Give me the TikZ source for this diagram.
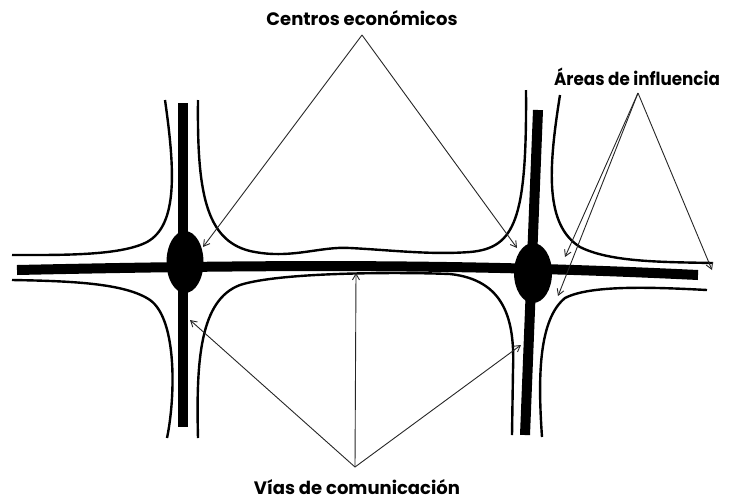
\documentclass[tikz,border=0pt]{standalone}
\usepackage{fontspec}
\setmainfont{Poppins}
\usetikzlibrary{shapes.geometric,arrows.meta}
\begin{document}
\begin{tikzpicture}[x=1pt,y=-1pt,
  road/.style={line width=10pt,black},
  edge/.style={line width=2.4pt,black},
  pointer/.style={line width=0.9pt,black!85,-{Straight Barb[length=6pt,width=7pt]}},
  hub/.style={ellipse,fill=black,inner sep=0pt},
  label/.style={font=\bfseries\fontsize{18}{20}\selectfont,inner sep=0pt}]
\useasboundingbox (0,0) rectangle (733,499);
% roads
\draw[road] (17,270) .. controls (250,265) and (450,263) .. (698,275);
\draw[road] (183,103) -- (183,427);
\draw[road] (538,110) -- (525,435);
\node[hub,minimum width=37pt,minimum height=62pt] (E1) at (185,262) {};
\node[hub,minimum width=38pt,minimum height=60pt] (E2) at (533,273) {};
% areas of influence
\draw[edge] (165,100) .. controls (175,170) and (178,225) .. (147,242) .. controls (120,256) and (60,255) .. (12,255);
\draw[edge] (12,280) .. controls (70,281) and (125,283) .. (150,300) .. controls (178,320) and (175,400) .. (167,438);
\draw[edge] (198,100) .. controls (197,190) and (205,240) .. (250,251) .. controls (290,260) and (320,246) .. (350,248) .. controls (390,250) and (430,255) .. (470,252) .. controls (515,248) and (527,220) .. (526,90);
\draw[edge] (198,438) .. controls (196,360) and (200,300) .. (240,285) .. controls (280,272) and (400,272) .. (450,274) .. controls (505,280) and (515,320) .. (513,370) -- (512,435);
\draw[edge] (560,95) .. controls (548,170) and (545,225) .. (580,247) .. controls (610,262) and (660,262) .. (713,263);
\draw[edge] (542,437) .. controls (538,380) and (538,320) .. (565,298) .. controls (590,285) and (650,287) .. (707,290);
% labels
\node[label] (centros) at (362,18) {Centros económicos};
\node[label] (areas) at (637,77) {\scalebox{0.93}[1]{Áreas de influencia}};
\node[label,anchor=base] (vias) at (357,494) {Vías de comunicación};
\coordinate (cA) at (362,35);
\coordinate (aA) at (638,93);
\coordinate (vA) at (355,467);
\coordinate (c1) at (203,247);
\coordinate (c2) at (517,248);
\coordinate (a1) at (565,257);
\coordinate (a2) at (558,296);
\coordinate (a3) at (712,270);
\coordinate (v1) at (356,273);
\coordinate (v2) at (190,320);
\coordinate (v3) at (521,345);
\draw[pointer] (cA) -- (c1);
\draw[pointer] (cA) -- (c2);
\draw[pointer] (aA) -- (a1);
\draw[pointer] (aA) -- (a2);
\draw[pointer] (aA) -- (a3);
\draw[pointer] (vA) -- (v1);
\draw[pointer] (vA) -- (v2);
\draw[pointer] (vA) -- (v3);
\end{tikzpicture}
\end{document}
